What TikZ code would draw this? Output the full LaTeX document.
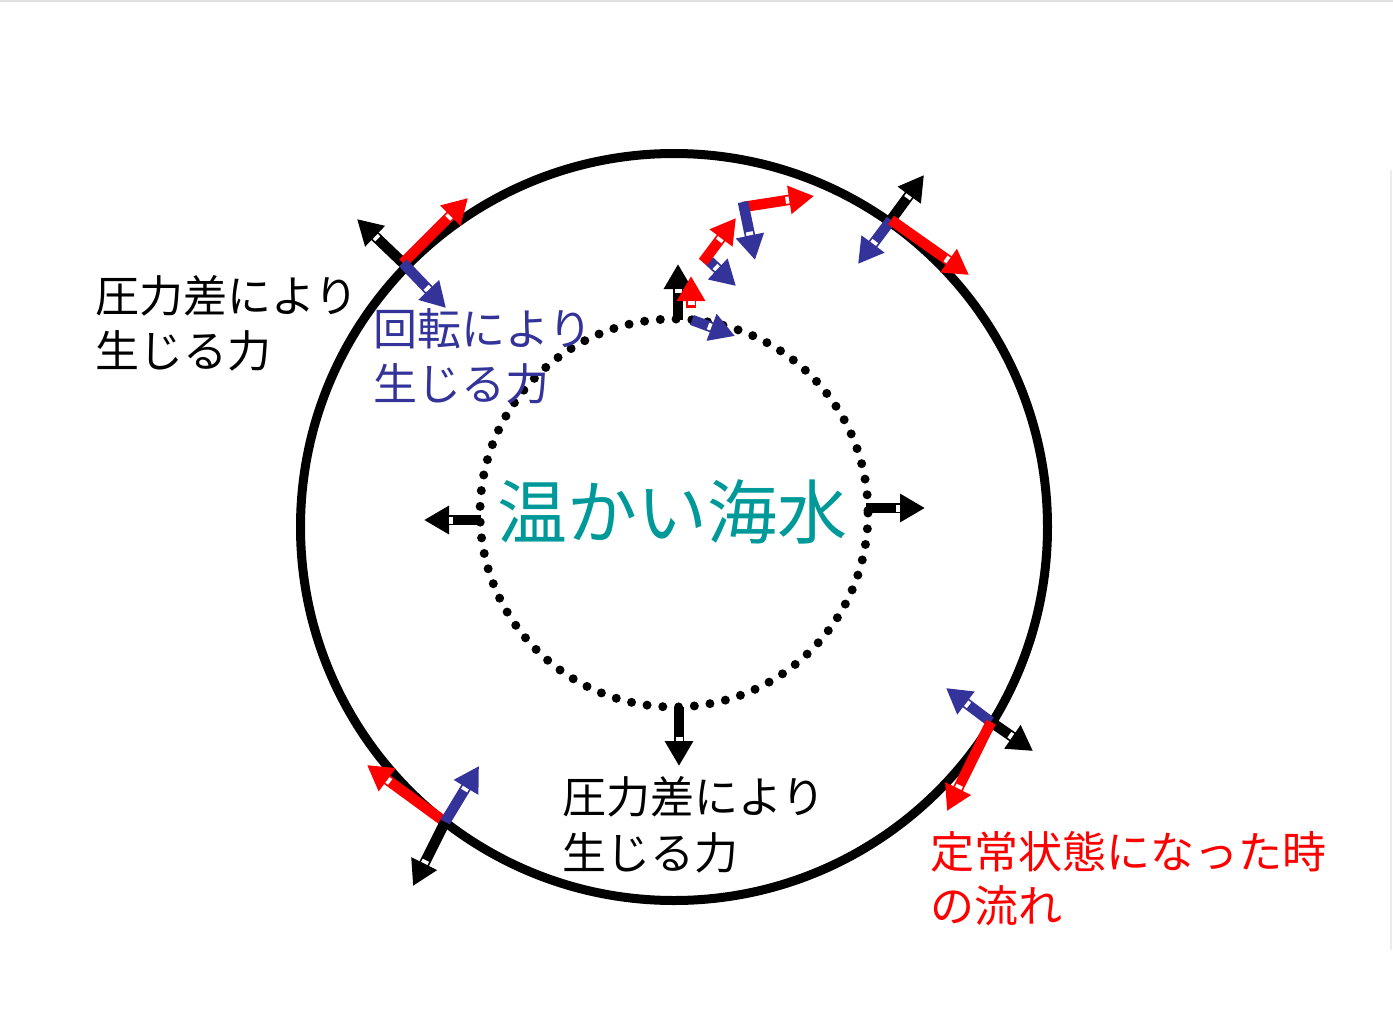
\documentclass[tikz,border=0pt]{standalone}
\usepackage{fontspec}
\setmainfont{Noto Sans CJK JP}
\usetikzlibrary{arrows.meta,calc}
\definecolor{teal2}{RGB}{0,153,153}
\definecolor{rotblue}{RGB}{51,51,153}
\definecolor{flowred}{RGB}{255,0,0}
\tikzset{
  shaft/.style={line width=10.5pt,-{Triangle[length=25pt,width=27pt]}},
  lbl/.style={anchor=base west,inner sep=0pt,font=\fontsize{44}{50}\selectfont},
}
\newcommand\farr[3]{%
  \draw[shaft,#1] (#2) -- (#3);
  \draw[white,line width=3.5pt] ($(#3)!27pt!(#2)!3.5pt!90:(#2)$) -- ($(#3)!27pt!(#2)!3.5pt!-90:(#2)$);
}
\begin{document}
\begin{tikzpicture}[x=1pt,y=-1pt]
\useasboundingbox[fill=white] (0,0) rectangle (1393,1034);
\draw[black!12,line width=2pt] (0,1) -- (1393,1);
\draw[black!8,line width=2pt] (1391,170) -- (1391,950);
% circles
\node[draw,circle,line width=9pt,minimum size=747pt,inner sep=0pt] (outer) at (674,527) {};
\draw[line width=9pt,line cap=round,dash pattern=on 0pt off 15.8pt] (674,513) circle[radius=194];
\coordinate (inner) at (674,513);
% text
\node[anchor=base west,inner sep=0pt,text=teal2,font=\fontsize{70}{80}\selectfont] (warm) at (497,538) {温かい海水};
\node[lbl] (pL1) at (95,312) {圧力差により};
\node[lbl] (pL2) at (95,367) {生じる力};
\node[lbl,text=rotblue] (rL1) at (373,345) {回転により};
\node[lbl,text=rotblue] (rL2) at (373,400) {生じる力};
\node[lbl] (pB1) at (562,813) {圧力差により};
\node[lbl] (pB2) at (562,869) {生じる力};
\node[lbl,text=flowred] (fR1) at (930,868) {定常状態になった時};
\node[lbl,text=flowred] (fR2) at (930,922) {の流れ};
% inner arrows
\coordinate (iL) at (481,520); \coordinate (iLt) at (424,520);
\coordinate (iR) at (866,508); \coordinate (iRt) at (925,508);
\coordinate (iB) at (679,707); \coordinate (iBt) at (679,766);
\farr{black}{iL}{iLt}
\farr{black}{iR}{iRt}
\farr{black}{iB}{iBt}
% top small group
\coordinate (t1) at (678,320); \coordinate (t1k) at (678,264);
\farr{black}{t1}{t1k}
\coordinate (t2) at (691,308); \coordinate (t2r) at (691,276);
\farr{flowred}{t2}{t2r}
\coordinate (t3) at (692,320); \coordinate (t3b) at (735,336);
\farr{rotblue}{t3}{t3b}
\coordinate (m1) at (703,262); \coordinate (m1r) at (736,218);
\coordinate (m2) at (705,257); \coordinate (m2b) at (736,286);
\farr{rotblue}{m2}{m2b}
\farr{flowred}{m1}{m1r}
\coordinate (u1) at (743,202); \coordinate (u1b) at (755,260);
\coordinate (u2) at (743,207); \coordinate (u2r) at (814,196);
\farr{flowred}{u2}{u2r}
\farr{rotblue}{u1}{u1b}
% upper left
\coordinate (A) at (403,263);
\coordinate (Ak) at (357,219); \coordinate (Ar) at (468,198); \coordinate (Ab) at (446,308);
\farr{black}{A}{Ak}
\farr{flowred}{A}{Ar}
\farr{rotblue}{A}{Ab}
% upper right
\coordinate (B) at (891,220);
\coordinate (Bk) at (924,175); \coordinate (Bb) at (858,264); \coordinate (Br) at (969,275);
\farr{black}{B}{Bk}
\farr{rotblue}{B}{Bb}
\farr{flowred}{B}{Br}
% lower right
\coordinate (C) at (991,722);
\coordinate (Cb) at (946,688); \coordinate (Ck) at (1033,751); \coordinate (Cr) at (947,811);
\farr{rotblue}{C}{Cb}
\farr{black}{C}{Ck}
\farr{flowred}{C}{Cr}
% lower left
\coordinate (D) at (445,822);
\coordinate (Dr) at (367,765); \coordinate (Db) at (479,766); \coordinate (Dk) at (413,886);
\farr{flowred}{D}{Dr}
\farr{rotblue}{D}{Db}
\farr{black}{D}{Dk}
\end{tikzpicture}
\end{document}
